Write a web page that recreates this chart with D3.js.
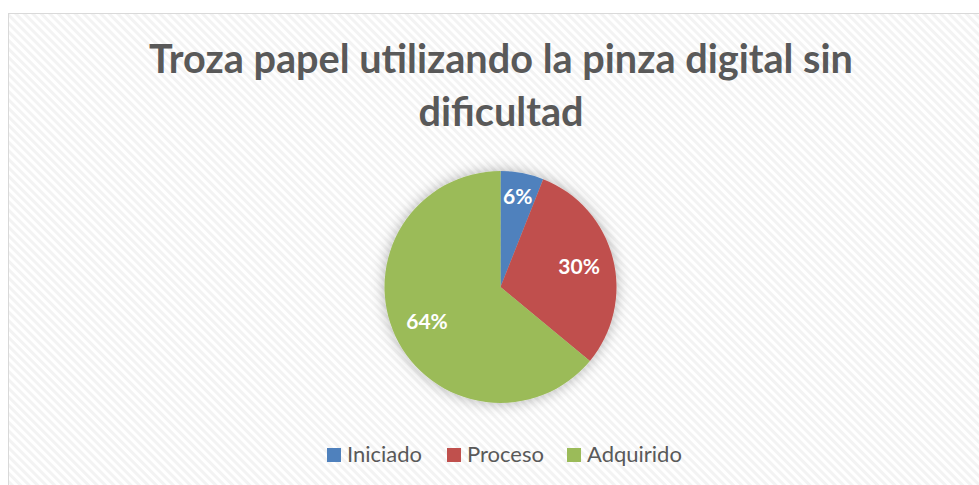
<!DOCTYPE html>
<html><head><meta charset="utf-8">
<script src="https://cdn.jsdelivr.net/npm/d3@7"></script>
<style>html,body{margin:0;padding:0;background:#fff;overflow:hidden}</style>
</head><body>
<script>
const titleLines = ["Troza papel utilizando la pinza digital sin", "dificultad"];
const categories = ["Iniciado", "Proceso", "Adquirido"];
const values = [6, 30, 64];
const colors = ["#4f81bd", "#c0504d", "#9bbb59"];

const W = 979, H = 485;
const svg = d3.select("body").append("svg").attr("width", W).attr("height", H);
const defs = svg.append("defs");
const pat = defs.append("pattern").attr("id", "stripes").attr("patternUnits", "userSpaceOnUse")
  .attr("width", 6).attr("height", 6).attr("patternTransform", "rotate(-45)");
pat.append("rect").attr("width", 6).attr("height", 6).attr("fill", "#ffffff");
pat.append("rect").attr("width", 3).attr("height", 6).attr("fill", "#f3f3f3");
const shadow = defs.append("filter").attr("id", "glow").attr("x", "-30%").attr("y", "-30%").attr("width", "160%").attr("height", "160%");
shadow.append("feGaussianBlur").attr("in", "SourceAlpha").attr("stdDeviation", 7).attr("result", "b");
shadow.append("feFlood").attr("flood-color", "#000").attr("flood-opacity", 0.3);
shadow.append("feComposite").attr("in2", "b").attr("operator", "in").attr("result", "s");
const fm = shadow.append("feMerge");
fm.append("feMergeNode").attr("in", "s");
fm.append("feMergeNode").attr("in", "SourceGraphic");

svg.append("rect").attr("x", 8.5).attr("y", 13.5).attr("width", 1000).attr("height", 500)
  .attr("fill", "url(#stripes)").attr("stroke", "#d9d9d9").attr("stroke-width", 1);

// Title
const cx = 501;
const title = svg.append("text").attr("text-anchor", "middle")
  .attr("font-family", "Lato, 'Open Sans', sans-serif").attr("font-weight", "bold")
  .attr("fill", "#595959").attr("font-size", 40);
const tl = titleLines.map((t, i) => title.append("tspan").attr("x", cx).attr("y", i === 0 ? 73 : 126).text(t));
const w0 = tl[0].node().getComputedTextLength();
title.attr("font-size", 40 * 704 / w0);

// Pie
const pcx = 500.5, pcy = 287, r = 116;
const pie = d3.pie().sort(null).value(d => d)(values);
const arc = d3.arc().innerRadius(0).outerRadius(r);
const g = svg.append("g").attr("transform", `translate(${pcx},${pcy})`);
g.append("g").attr("filter", "url(#glow)").selectAll("path").data(pie).join("path")
  .attr("d", arc).attr("fill", (d, i) => colors[i]);
const total = d3.sum(values);
g.selectAll("text.lbl").data(pie).join("text").attr("class", "lbl")
  .attr("transform", d => {
    const a = (d.startAngle + d.endAngle) / 2;
    const rr = r * (d.data / total < 0.1 ? 0.79 : 0.70);
    return `translate(${Math.sin(a) * rr},${-Math.cos(a) * rr})`;
  })
  .attr("text-anchor", "middle").attr("dy", "0.35em")
  .attr("font-family", "Lato, 'Open Sans', sans-serif").attr("font-weight", "bold")
  .attr("font-size", 21).attr("fill", "#ffffff")
  .text(d => Math.round(d.data / total * 100) + "%");

// Legend
const legX = [327, 447, 567];
const leg = svg.append("g");
categories.forEach((c, i) => {
  leg.append("rect").attr("x", legX[i]).attr("y", 448).attr("width", 14).attr("height", 14).attr("fill", colors[i]);
  leg.append("text").attr("x", legX[i] + 20).attr("y", 462)
    .attr("font-family", "Lato, 'Open Sans', sans-serif").attr("font-size", 22)
    .attr("fill", "#595959").text(c);
});
</script>
</body></html>
